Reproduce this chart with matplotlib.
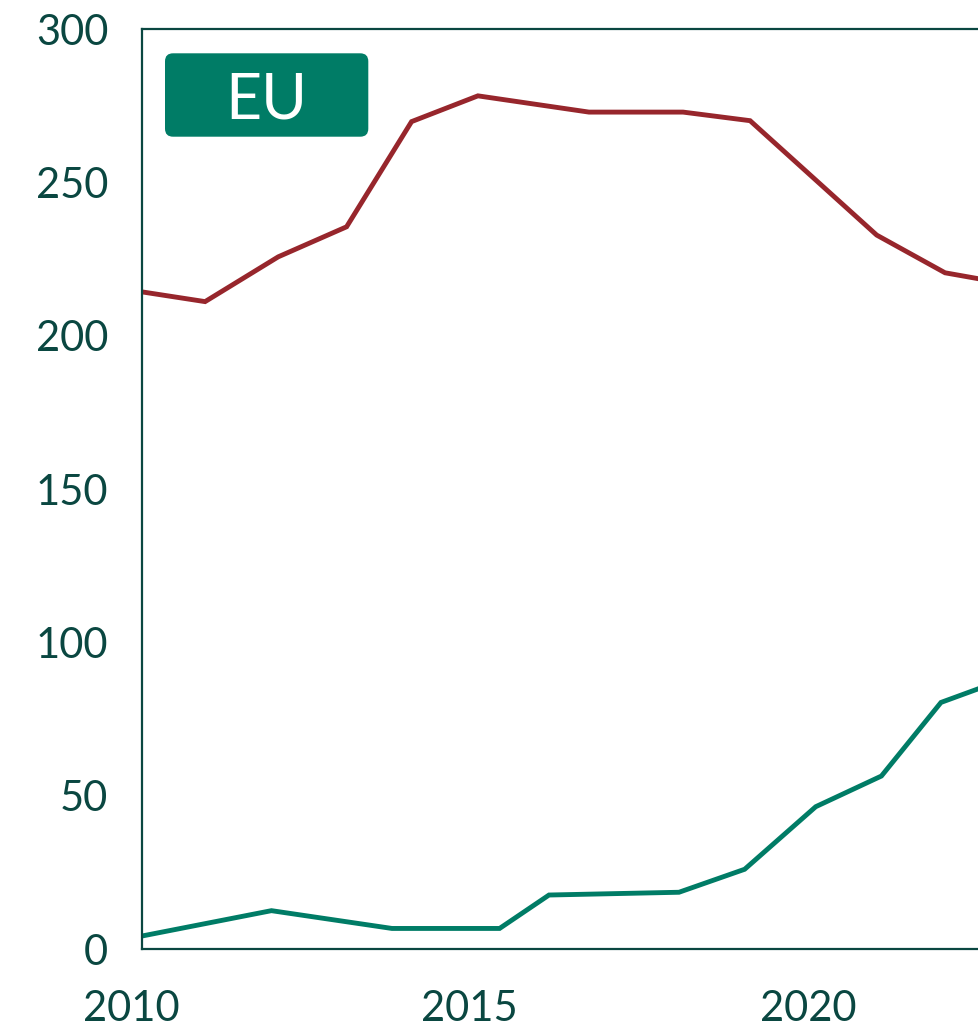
import matplotlib
matplotlib.use("Agg")
import matplotlib.pyplot as plt
from matplotlib.patches import FancyBboxPatch

# ---- data (decimal years) ----
red_years = [2010.15, 2011.09, 2012.17, 2013.18, 2014.14, 2015.12, 2016.76,
             2018.15, 2019.14, 2021.01, 2022.02, 2022.53]
red_values = [214.4, 211.2, 225.8, 235.6, 269.9, 278.3, 273.0,
              273.0, 270.2, 232.9, 220.6, 218.6]

green_years = [2010.15, 2012.07, 2013.85, 2015.44, 2016.17, 2018.09, 2019.06,
               2020.11, 2021.08, 2021.96, 2022.53]
green_values = [4.3, 12.6, 6.8, 6.8, 17.7, 18.6, 26.1,
                46.5, 56.5, 80.5, 85.1]

x_ticks = [2010, 2015, 2020]
y_ticks = [0, 50, 100, 150, 200, 250, 300]
label = "EU"

# ---- style ----
DARK = "#0a4741"
GREEN = "#007c66"
RED = "#97262c"
plt.rcParams['font.family'] = ['Lato', 'DejaVu Sans']

W, H = 979, 1030
fig = plt.figure(figsize=(W / 100, H / 100), dpi=100)

left_px, right_px = 141.7, 1028.0
top_px, bottom_px = 29.3, 949.3
ax = fig.add_axes([left_px / W, 1 - bottom_px / H,
                   (right_px - left_px) / W, (bottom_px - top_px) / H])

ax.plot(red_years, red_values, color=RED, lw=3.5, solid_joinstyle='miter',
        solid_capstyle='butt')
ax.plot(green_years, green_values, color=GREEN, lw=3.5, solid_joinstyle='miter',
        solid_capstyle='butt')

ax.set_yticks(y_ticks)
ax.set_yticklabels([str(t) for t in y_ticks])
ax.set_xticks([])
ax.tick_params(axis='both', length=0, labelsize=30, labelcolor=DARK)
ax.tick_params(axis='y', pad=24)

# x range: axis starts just after 2010 (the 2010 label sits left of the spine)
px_per_year = 67.7
year0_px = 131.3
ax.set_xlim(2010 + (left_px - year0_px) / px_per_year,
            2010 + (right_px - year0_px) / px_per_year)
ax.set_ylim(0, 300)

# x labels drawn at their data positions (2010 lies just outside the view)
for t in x_ticks:
    ax.annotate(str(t), xy=(t, 0), xycoords=('data', 'axes fraction'),
                xytext=(0, -29), textcoords='offset points',
                ha='center', va='top', fontsize=30, color=DARK,
                annotation_clip=False)

for s in ax.spines.values():
    s.set_color(DARK)
    s.set_linewidth(1.6)

# EU label box (in inches)
box = FancyBboxPatch((1.65, 8.933), 3.683 - 1.65, 9.767 - 8.933,
                     boxstyle="round,pad=0,rounding_size=0.08",
                     transform=fig.dpi_scale_trans, facecolor=GREEN,
                     edgecolor='none', zorder=5)
fig.add_artist(box)
fig.text(2.667, 9.117, label, transform=fig.dpi_scale_trans, ha='center',
         va='baseline', color='white', fontsize=45, zorder=6)

fig.savefig("out.png", dpi=100)
